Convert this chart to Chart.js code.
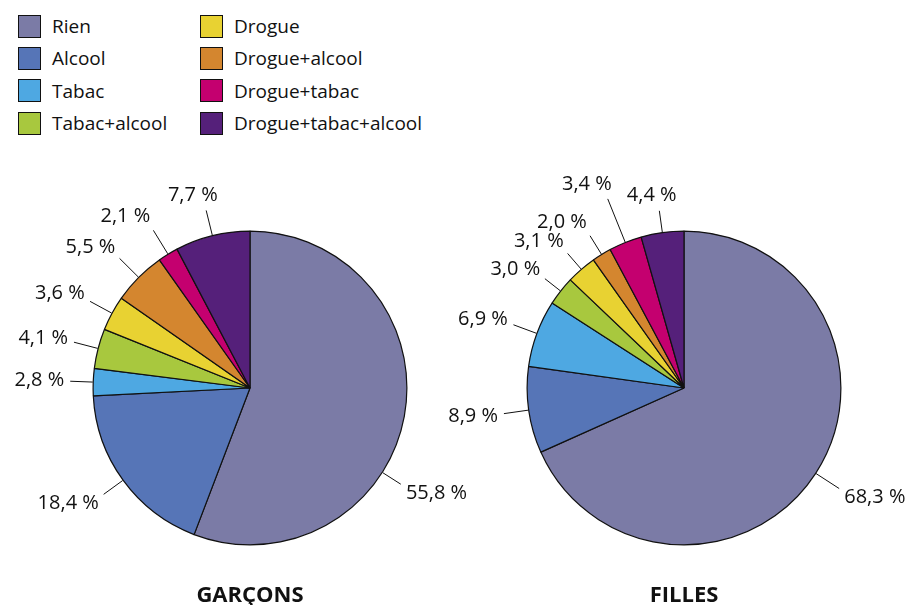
<!DOCTYPE html>
<html lang="fr">
<head>
<meta charset="utf-8">
<title>Rien, alcool, tabac, drogue – garçons et filles</title>
<script src="https://cdn.jsdelivr.net/npm/chart.js@4.4.1/dist/chart.umd.min.js"></script>
<style>
  html, body { margin: 0; padding: 0; background: #fff; }
  #page { position: relative; width: 914px; height: 605px; overflow: hidden; font-family: "Open Sans", sans-serif; color: #111; }
  #legend { position: absolute; left: 18px; top: 10px; display: grid; grid-auto-flow: column;
            grid-template-rows: repeat(4, 32.3px); grid-template-columns: 182px auto; }
  .item { display: flex; align-items: center; font-size: 19px; }
  .swatch { width: 21px; height: 21px; border: 1.5px solid #111; margin-right: 11px; }
  .panel { position: absolute; top: 140px; height: 465px; }
</style>
</head>
<body>
<div id="page">
  <div id="legend"></div>
  <div class="panel" style="left:0;width:500px"><canvas id="garcons" width="500" height="465"></canvas></div>
  <div class="panel" style="left:420px;width:494px"><canvas id="filles" width="494" height="465"></canvas></div>
</div>
<script>
// ===== DATA =====
const categories = ["Rien", "Alcool", "Tabac", "Tabac+alcool", "Drogue", "Drogue+alcool", "Drogue+tabac", "Drogue+tabac+alcool"];
const garconsValues = [55.8, 18.4, 2.8, 4.1, 3.6, 5.5, 2.1, 7.7];
const fillesValues = [68.3, 8.9, 6.9, 3.0, 3.1, 2.0, 3.4, 4.4];
const panelTitles = ["GARÇONS", "FILLES"];

const sliceColors = ["#7b7ba6", "#5675b7", "#4ea8e2", "#a8c83e", "#e8d232", "#d4862f", "#c4006f", "#55207a"];

// leader line length (px) and where along the slice the leader sits (0..1)
const garconsLeaders = [22, 24, 23, 25, 25, 27, 28, 26];
const garconsAnchors = [0.61, 0.5, 0.5, 0.5, 0.5, 0.5, 0.5, 0.5];
const fillesLeaders = [28, 25, 25, 20, 21, 22, 47, 22];
const fillesAnchors = [0.5, 0.5, 0.5, 0.5, 0.5, 0.5, 0.5, 0.5];

// ===== LEGEND (html) =====
const legendBox = document.getElementById("legend");
categories.forEach((name, i) => {
  const div = document.createElement("div");
  div.className = "item";
  div.innerHTML = `<span class="swatch" style="background:${sliceColors[i]}"></span><span>${name}</span>`;
  legendBox.appendChild(div);
});

function fmt(v) {
  return v.toFixed(1).replace(".", ",") + " %";
}

// draws the percent labels with leader lines + the title under the pie
function makeLabelPlugin(title, leaders, anchors) {
  return {
    id: "sliceLabels",
    afterDatasetsDraw(chart) {
      const ctx = chart.ctx;
      const meta = chart.getDatasetMeta(0);
      const values = chart.data.datasets[0].data;
      ctx.save();
      ctx.font = '20px "Open Sans"';
      ctx.strokeStyle = "#111";
      ctx.fillStyle = "#111";
      ctx.lineWidth = 1;
      ctx.textAlign = "center";
      ctx.textBaseline = "middle";
      meta.data.forEach((arc, i) => {
        const p = arc.getProps(["x", "y", "startAngle", "endAngle", "outerRadius"], true);
        const a = p.startAngle + (p.endAngle - p.startAngle) * anchors[i];
        const dx = Math.cos(a), dy = Math.sin(a);
        const r0 = p.outerRadius + 0.5;
        const r1 = p.outerRadius + leaders[i];
        ctx.beginPath();
        ctx.moveTo(p.x + dx * r0, p.y + dy * r0);
        ctx.lineTo(p.x + dx * r1, p.y + dy * r1);
        ctx.stroke();
        const text = fmt(values[i]);
        const halfW = ctx.measureText(text).width / 2;
        const cx = p.x + dx * (r1 + 6) + halfW * Math.max(-1, Math.min(1, 2 * dx));
        const cy = p.y + dy * (r1 + 6) + 10 * dy;
        ctx.fillText(text, cx, cy);
      });
      ctx.font = 'bold 22px "Open Sans"';
      ctx.textBaseline = "alphabetic";
      ctx.fillText(title, meta.data[0].x, 462);
      ctx.restore();
    }
  };
}

function createPie(id, values, title, leaders, anchors, padding) {
  const ctx = document.getElementById(id).getContext("2d");
  return new Chart(ctx, {
    type: "pie",
    data: {
      labels: categories,
      datasets: [{
        data: values,
        backgroundColor: sliceColors,
        borderColor: "#111",
        borderWidth: 1.2
      }]
    },
    options: {
      responsive: false,
      animation: false,
      layout: { padding: padding },
      plugins: {
        legend: { display: false },
        tooltip: { enabled: true }
      }
    },
    plugins: [makeLabelPlugin(title, leaders, anchors)]
  });
}

const garconsChart = createPie("garcons", garconsValues, panelTitles[0], garconsLeaders, garconsAnchors,
  { left: 92.5, right: 92.5, top: 90.5, bottom: 59.5 });
const fillesChart = createPie("filles", fillesValues, panelTitles[1], fillesLeaders, fillesAnchors,
  { left: 106.5, right: 72.5, top: 90.5, bottom: 59.5 });
</script>
</body>
</html>
